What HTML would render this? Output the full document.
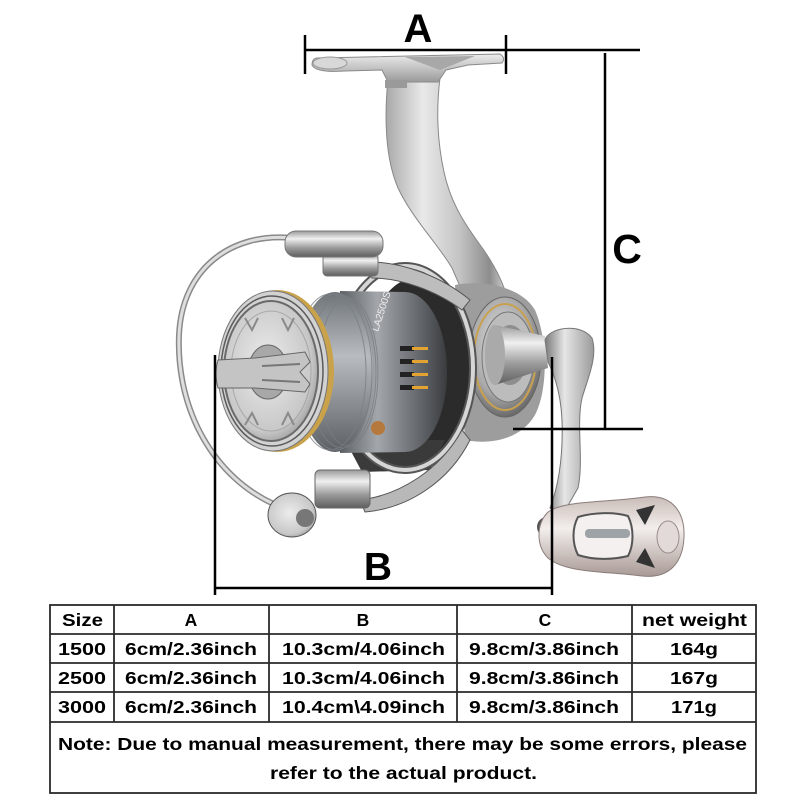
<!DOCTYPE html>
<html><head><meta charset="utf-8"><style>
html,body{margin:0;padding:0;background:#fff;}
svg{display:block}
.t{font-family:"Liberation Sans",Arial,sans-serif;font-weight:bold;fill:#000}
</style></head><body>
<svg width="800" height="800" viewBox="0 0 800 800" xmlns="http://www.w3.org/2000/svg">
<defs>
<linearGradient id="stemG" x1="0" y1="0" x2="1" y2="0">
<stop offset="0" stop-color="#a9a9a9"/><stop offset="0.3" stop-color="#e9e9e9"/><stop offset="0.6" stop-color="#c4c4c4"/><stop offset="0.85" stop-color="#8d8d8d"/><stop offset="1" stop-color="#d8d8d8"/>
</linearGradient>
<linearGradient id="footG" x1="0" y1="0" x2="0" y2="1">
<stop offset="0" stop-color="#ececec"/><stop offset="1" stop-color="#9a9a9a"/>
</linearGradient>
<radialGradient id="gearG" cx="0.45" cy="0.4" r="0.6">
<stop offset="0" stop-color="#e4e4e4"/><stop offset="0.7" stop-color="#a8a8a8"/><stop offset="1" stop-color="#6a6a6a"/>
</radialGradient>
<linearGradient id="cylG" x1="0" y1="0" x2="0" y2="1">
<stop offset="0" stop-color="#9a9a9a"/><stop offset="0.3" stop-color="#f0f0f0"/><stop offset="0.65" stop-color="#9a9a9a"/><stop offset="1" stop-color="#5e5e5e"/>
</linearGradient>
<linearGradient id="skirtG" x1="0" y1="0" x2="1" y2="0">
<stop offset="0" stop-color="#5d6166"/><stop offset="0.35" stop-color="#a3a7ab"/><stop offset="0.7" stop-color="#6a6e73"/><stop offset="1" stop-color="#3a3c3f"/>
</linearGradient>
<linearGradient id="lineG" x1="0" y1="0" x2="0" y2="1">
<stop offset="0" stop-color="#6e7378"/><stop offset="0.4" stop-color="#b8bcc0"/><stop offset="1" stop-color="#5c6065"/>
</linearGradient>
<radialGradient id="faceG" cx="0.45" cy="0.45" r="0.6">
<stop offset="0" stop-color="#ececec"/><stop offset="0.8" stop-color="#c8c8c8"/><stop offset="1" stop-color="#9a9a9a"/>
</radialGradient>
<linearGradient id="gripG" x1="0" y1="0" x2="0" y2="1">
<stop offset="0" stop-color="#c9bcb8"/><stop offset="0.4" stop-color="#f3eeec"/><stop offset="1" stop-color="#a89995"/>
</linearGradient>
<linearGradient id="armG" x1="0" y1="0" x2="1" y2="0">
<stop offset="0" stop-color="#7a7a7a"/><stop offset="0.4" stop-color="#e6e6e6"/><stop offset="1" stop-color="#9a9a9a"/>
</linearGradient>
</defs>

<!-- stem -->
<path d="M388,78 C384,120 386,160 398,188 C412,218 438,244 452,268 L466,300 L508,300 C502,278 490,258 478,242 C462,220 450,200 444,172 C437,140 436,110 440,78 Z" fill="url(#stemG)" stroke="#888" stroke-width="1"/>
<!-- foot -->
<path d="M318,58 L500,54 Q506,58 502,63 L468,65 L446,70 L438,82 L388,82 L382,70 L345,71 Q316,73 312,65 Q312,58 318,58 Z" fill="url(#footG)" stroke="#8a8a8a"/>
<path d="M405,57 L475,56 L440,70 Z" fill="#a8a8a8"/>
<ellipse cx="330" cy="63" rx="17" ry="6" fill="#d8d8d8" stroke="#999"/>
<rect x="385" y="80" width="22" height="8" fill="#9a9a9a"/>

<!-- gearbox -->
<path d="M455,285 C480,280 520,285 535,310 C548,340 548,390 535,415 C520,440 490,445 465,440 Z" fill="#9d9d9d"/>
<ellipse cx="505" cy="357" rx="36" ry="60" fill="url(#gearG)" stroke="#666"/>
<ellipse cx="505" cy="357" rx="31" ry="53" fill="none" stroke="#c8a050" stroke-width="2"/>
<ellipse cx="508" cy="357" rx="26" ry="45" fill="#bcbcbc" stroke="#777"/>
<ellipse cx="510" cy="355" rx="18" ry="30" fill="#8e8e8e"/>
<path d="M495,325 L545,336 L548,368 L495,385 Z" fill="url(#cylG)"/>
<ellipse cx="495" cy="355" rx="10" ry="30" fill="#aaa"/>

<!-- handle arm -->
<path d="M545,340 C548,328 580,322 592,338 C598,356 588,378 582,398 C576,425 584,460 578,488 L562,516 L550,508 C560,482 563,450 562,420 C561,398 556,378 548,362 Z" fill="url(#armG)" stroke="#777"/>
<!-- grip -->
<circle cx="547" cy="527" r="10" fill="#555"/>
<path d="M548,512 C565,500 605,503 645,497 C672,494 685,512 684,537 C683,562 670,579 642,576 C602,571 566,573 548,558 C536,546 536,524 548,512 Z" fill="url(#gripG)" stroke="#8a7d7a"/>
<path d="M578,517 C595,512 615,512 628,516 C634,528 634,545 628,556 C612,560 593,560 578,555 C572,543 572,528 578,517 Z" fill="#f4f0ef" stroke="#555" stroke-width="2"/>
<rect x="585" y="529" width="45" height="9" rx="4" fill="#9ea3a8"/>
<path d="M636,510 L655,505 L645,525 Z" fill="#333"/>
<path d="M636,562 L655,568 L645,548 Z" fill="#333"/>
<ellipse cx="668" cy="537" rx="11" ry="16" fill="#e2dad8" stroke="#9a8e8b"/>

<!-- rotor -->
<ellipse cx="418" cy="372" rx="55" ry="95" fill="#2b2b2b"/>
<path d="M345,440 L445,440 L430,470 L362,472 Z" fill="#3a3a3a"/>
<ellipse cx="405" cy="368" rx="68" ry="102" fill="none" stroke="#555" stroke-width="8"/>
<ellipse cx="405" cy="368" rx="68" ry="102" fill="none" stroke="#d6d6d6" stroke-width="4"/>

<!-- spool skirt -->
<path d="M340,291 L405,292 A42,80 0 0 1 405,452 L340,453 Z" fill="url(#skirtG)"/>
<g fill="#222"><rect x="400" y="346" width="14" height="5"/><rect x="400" y="359" width="14" height="5"/><rect x="400" y="372" width="14" height="5"/><rect x="400" y="385" width="14" height="5"/></g>
<g fill="#e3a332"><rect x="412" y="347" width="16" height="3"/><rect x="412" y="360" width="16" height="3"/><rect x="412" y="373" width="16" height="3"/><rect x="412" y="386" width="16" height="3"/></g>
<text x="0" y="0" transform="translate(378,332) rotate(-72)" font-family="Liberation Sans,sans-serif" font-size="10" fill="#eee">LA2500S</text>
<circle cx="378" cy="428" r="7" fill="#b5793d"/>
<!-- line area -->
<ellipse cx="335" cy="372" rx="38" ry="80" fill="url(#lineG)"/>
<g fill="none" stroke="#7a7f84" stroke-width="1" opacity="0.8">
<ellipse cx="330" cy="372" rx="36" ry="78"/><ellipse cx="336" cy="372" rx="36" ry="78"/><ellipse cx="342" cy="372" rx="34" ry="76"/><ellipse cx="348" cy="372" rx="30" ry="74"/>
</g>
<!-- spool face -->
<ellipse cx="277" cy="371" rx="57" ry="81" fill="#c9a24a"/>
<ellipse cx="273" cy="371" rx="55" ry="80" fill="#d2d2d2" stroke="#777"/>
<ellipse cx="272" cy="371" rx="51" ry="75" fill="none" stroke="#5a5a5a" stroke-width="1.5"/>
<ellipse cx="271" cy="371" rx="47" ry="70" fill="url(#faceG)" stroke="#6a6a6a" stroke-width="2"/>
<ellipse cx="271" cy="371" rx="40" ry="60" fill="none" stroke="#a8a8a8"/>
<g stroke="#8a8a8a" stroke-width="2" fill="none">
<path d="M245,318 L252,330 L258,318"/><path d="M282,318 L288,330 L294,318"/>
<path d="M245,425 L252,413 L258,425"/><path d="M282,425 L288,413 L294,425"/>
</g>
<ellipse cx="268" cy="372" rx="20" ry="27" fill="#a8a8a8" stroke="#666"/>
<ellipse cx="268" cy="372" rx="10" ry="14" fill="#6a6a6a"/>
<path d="M218,360 L255,358 L305,352 L310,362 L300,372 L310,384 L305,392 L255,388 L218,388 Q214,374 218,360 Z" fill="#c4c4c4" stroke="#666"/>
<path d="M262,366 L300,364 M262,380 L300,382" stroke="#777" stroke-width="2"/>

<!-- bail wire -->
<path d="M292,238 C232,232 182,268 179,335 C176,410 214,478 276,505" fill="none" stroke="#8a8a8a" stroke-width="6"/>
<path d="M292,238 C232,232 182,268 179,335 C176,410 214,478 276,505" fill="none" stroke="#dedede" stroke-width="3"/>
<!-- top bail -->
<path d="M370,262 C400,262 440,275 470,300 L462,310 C435,290 400,278 372,278 Z" fill="#bdbdbd" stroke="#555"/>
<rect x="323" y="254" width="55" height="22" rx="4" fill="url(#cylG)" stroke="#777"/>
<rect x="285" y="231" width="98" height="26" rx="11" fill="url(#cylG)" stroke="#777"/>
<!-- bottom bail -->
<path d="M360,500 C400,495 440,470 462,430 L470,440 C450,480 410,508 365,512 Z" fill="#b8b8b8" stroke="#555"/>
<rect x="315" y="470" width="55" height="38" rx="5" fill="url(#cylG)" stroke="#666"/>
<ellipse cx="292" cy="515" rx="24" ry="22" fill="url(#faceG)" stroke="#555"/>
<circle cx="305" cy="518" r="9" fill="#777"/>

<!-- dimension lines -->
<g stroke="#000" stroke-width="2.5" fill="none">
<line x1="305" y1="50" x2="640" y2="50"/>
<line x1="305" y1="35" x2="305" y2="74"/>
<line x1="506" y1="35" x2="506" y2="74"/>
<line x1="605" y1="53" x2="605" y2="428"/>
<line x1="513" y1="429" x2="643" y2="429"/>
<line x1="215" y1="588" x2="553" y2="588"/>
<line x1="215" y1="355" x2="215" y2="595"/>
<line x1="552" y1="357" x2="552" y2="595"/>
</g>
<text class="t" x="418" y="42" font-size="40" text-anchor="middle">A</text>
<text class="t" x="627" y="263" font-size="41" text-anchor="middle">C</text>
<text class="t" x="378" y="580" font-size="39" text-anchor="middle">B</text>

<!-- table -->
<g stroke="#2a2a2a" stroke-width="1.8" fill="none">
<rect x="50" y="605" width="706" height="188"/>
<line x1="50" y1="634" x2="756" y2="634"/>
<line x1="50" y1="663" x2="756" y2="663"/>
<line x1="50" y1="692" x2="756" y2="692"/>
<line x1="50" y1="722" x2="756" y2="722"/>
<line x1="114" y1="605" x2="114" y2="722"/>
<line x1="269" y1="605" x2="269" y2="722"/>
<line x1="457" y1="605" x2="457" y2="722"/>
<line x1="632" y1="605" x2="632" y2="722"/>
</g>
<g class="t" font-size="17.5">
<text class="t" x="62" y="626" textLength="41" lengthAdjust="spacingAndGlyphs">Size</text>
<text class="t" x="191" y="626" text-anchor="middle">A</text>
<text class="t" x="363" y="626" text-anchor="middle">B</text>
<text class="t" x="545" y="626" text-anchor="middle">C</text>
<text class="t" x="642" y="626" textLength="105" lengthAdjust="spacingAndGlyphs">net weight</text>

<text class="t" x="58" y="655" textLength="48" lengthAdjust="spacingAndGlyphs">1500</text>
<text class="t" x="125" y="655" textLength="132" lengthAdjust="spacingAndGlyphs">6cm/2.36inch</text>
<text class="t" x="282" y="655" textLength="163" lengthAdjust="spacingAndGlyphs">10.3cm/4.06inch</text>
<text class="t" x="469" y="655" textLength="150" lengthAdjust="spacingAndGlyphs">9.8cm/3.86inch</text>
<text class="t" x="670" y="655" textLength="48" lengthAdjust="spacingAndGlyphs">164g</text>

<text class="t" x="58" y="684" textLength="48" lengthAdjust="spacingAndGlyphs">2500</text>
<text class="t" x="125" y="684" textLength="132" lengthAdjust="spacingAndGlyphs">6cm/2.36inch</text>
<text class="t" x="282" y="684" textLength="163" lengthAdjust="spacingAndGlyphs">10.3cm/4.06inch</text>
<text class="t" x="469" y="684" textLength="150" lengthAdjust="spacingAndGlyphs">9.8cm/3.86inch</text>
<text class="t" x="670" y="684" textLength="48" lengthAdjust="spacingAndGlyphs">167g</text>

<text class="t" x="58" y="713" textLength="48" lengthAdjust="spacingAndGlyphs">3000</text>
<text class="t" x="125" y="713" textLength="132" lengthAdjust="spacingAndGlyphs">6cm/2.36inch</text>
<text class="t" x="282" y="713" textLength="163" lengthAdjust="spacingAndGlyphs">10.4cm\4.09inch</text>
<text class="t" x="469" y="713" textLength="150" lengthAdjust="spacingAndGlyphs">9.8cm/3.86inch</text>
<text class="t" x="671" y="713" textLength="46" lengthAdjust="spacingAndGlyphs">171g</text>

<text class="t" x="58" y="750" textLength="689" lengthAdjust="spacingAndGlyphs">Note: Due to manual measurement, there may be some errors, please</text>
<text class="t" x="270" y="779" textLength="267" lengthAdjust="spacingAndGlyphs">refer to the actual product.</text>
</g>
</svg>
</body></html>
